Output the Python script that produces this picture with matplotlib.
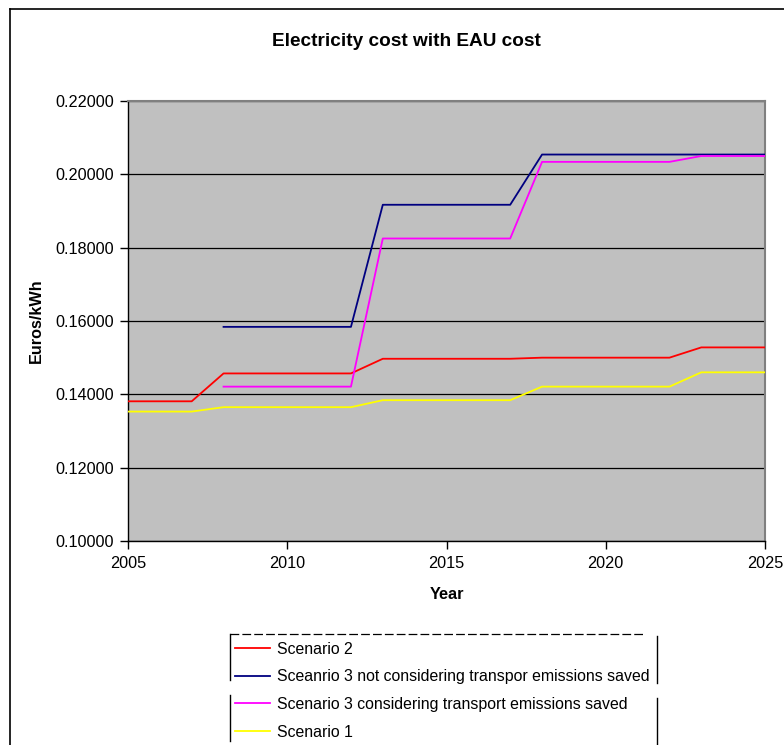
import matplotlib
matplotlib.use("Agg")
import matplotlib.pyplot as plt
from matplotlib.lines import Line2D
import numpy as np

plt.rcParams['font.family'] = ['Liberation Sans', 'DejaVu Sans']

years = list(range(2005, 2026))
nan = np.nan
scenario2 = [0.1381, 0.1381, 0.1381,
             0.1457, 0.1457, 0.1457, 0.1457, 0.1457,
             0.1497, 0.1497, 0.1497, 0.1497, 0.1497,
             0.1500, 0.1500, 0.1500, 0.1500, 0.1500,
             0.1528, 0.1528, 0.1528]
scenario3_not = [nan, nan, nan,
                 0.1584, 0.1584, 0.1584, 0.1584, 0.1584,
                 0.1917, 0.1917, 0.1917, 0.1917, 0.1917,
                 0.2054, 0.2054, 0.2054, 0.2054, 0.2054,
                 0.2054, 0.2054, 0.2054]
scenario3_cons = [nan, nan, nan,
                  0.1421, 0.1421, 0.1421, 0.1421, 0.1421,
                  0.1825, 0.1825, 0.1825, 0.1825, 0.1825,
                  0.2034, 0.2034, 0.2034, 0.2034, 0.2034,
                  0.2050, 0.2050, 0.2050]
scenario1 = [0.1353, 0.1353, 0.1353,
             0.1365, 0.1365, 0.1365, 0.1365, 0.1365,
             0.1384, 0.1384, 0.1384, 0.1384, 0.1384,
             0.1421, 0.1421, 0.1421, 0.1421, 0.1421,
             0.1460, 0.1460, 0.1460]

series_labels = ["Scenario 2",
                 "Sceanrio 3 not considering transpor emissions saved",
                 "Scenario 3 considering transport emissions saved",
                 "Scenario 1"]
series_colors = ["#FF0000", "#000080", "#FF00FF", "#FFFF00"]
series_values = [scenario2, scenario3_not, scenario3_cons, scenario1]

xticks = [2005, 2010, 2015, 2020, 2025]
yticks = [0.10, 0.12, 0.14, 0.16, 0.18, 0.20, 0.22]

W, H = 784, 745
fig = plt.figure(figsize=(W / 100, H / 100), dpi=100)
fig.patch.set_facecolor("white")

ax = fig.add_axes([128 / W, 1 - 541 / H, (765 - 128) / W, (541 - 101) / H])
ax.set_facecolor("#C0C0C0")

for vals, col, lab in zip(series_values, series_colors, series_labels):
    ax.plot(years, vals, color=col, lw=1.3, label=lab, zorder=3)

ax.set_xlim(2005, 2025)
ax.set_ylim(0.10, 0.22)
ax.set_xticks(xticks)
ax.set_yticks(yticks)
ax.set_yticklabels([f"{v:.5f}" for v in yticks])
ax.tick_params(axis='both', labelsize=11.7, direction='out', length=6, width=1, colors='black')
ax.tick_params(axis='x', pad=5)
ax.tick_params(axis='y', pad=4)
ax.grid(axis='y', color='black', lw=0.9, zorder=1)
ax.set_axisbelow(True)
for s in ['left', 'bottom']:
    ax.spines[s].set_color('black')
    ax.spines[s].set_linewidth(1.0)
for s in ['top', 'right']:
    ax.spines[s].set_color('#808080')
    ax.spines[s].set_linewidth(1.5)

ax.set_xlabel("Year", fontsize=11.7, fontweight='bold', labelpad=11)
ax.set_ylabel("Euros/kWh", fontsize=11.7, fontweight='bold', labelpad=8)

fig.text(406 / W, 1 - 41 / H, "Electricity cost with EAU cost", fontsize=13.7,
         fontweight='bold', ha='center', va='center')

# outer chart border
fig.add_artist(Line2D([10 / W, 10 / W], [0, 1 - 9 / H], color='black', lw=1.2, transform=fig.transFigure))
fig.add_artist(Line2D([10 / W, 1], [1 - 9 / H, 1 - 9 / H], color='black', lw=1.2, transform=fig.transFigure))

# legend
handles, labels = ax.get_legend_handles_labels()
leg = fig.legend(handles, labels, loc='upper left', bbox_to_anchor=(233 / W, 1 - 640 / H),
                 frameon=False, fontsize=11.4, handlelength=2.25, handletextpad=0.4,
                 labelspacing=0.8, borderaxespad=0, borderpad=0.1)

# legend border (broken, as in reference)
fig.add_artist(Line2D([230 / W, 645 / W], [1 - 634 / H, 1 - 634 / H], color='black', lw=0.9,
                      ls=(0, (7, 2.5)), transform=fig.transFigure))
fig.add_artist(Line2D([230 / W, 230 / W], [1 - 634 / H, 1 - 680 / H], color='black', lw=1.0, transform=fig.transFigure))
fig.add_artist(Line2D([230 / W, 230 / W], [1 - 695 / H, 1 - 741 / H], color='black', lw=1.0, transform=fig.transFigure))
fig.add_artist(Line2D([657 / W, 657 / W], [1 - 636 / H, 1 - 683 / H], color='black', lw=1.0, transform=fig.transFigure))
fig.add_artist(Line2D([657 / W, 657 / W], [1 - 698 / H, 1 - 745 / H], color='black', lw=1.0, transform=fig.transFigure))

fig.savefig("out.png", dpi=100)
